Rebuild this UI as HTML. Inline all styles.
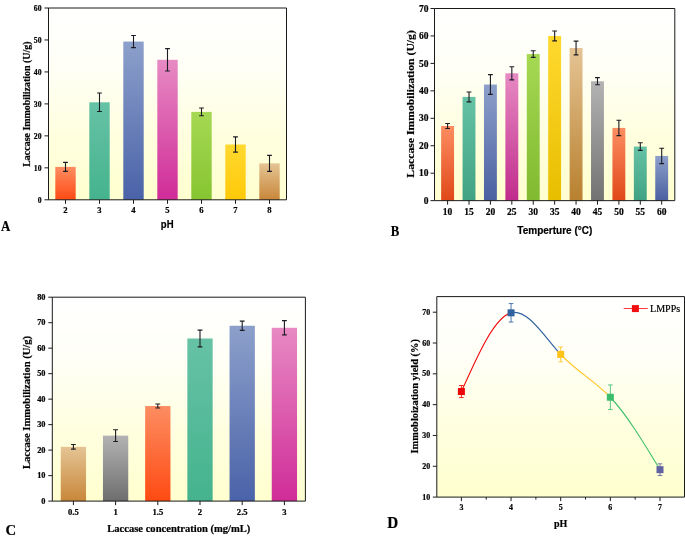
<!DOCTYPE html>
<html><head><meta charset="utf-8"><title>Figure</title>
<style>html,body{margin:0;padding:0;background:#fff;}body{width:685px;height:537px;overflow:hidden;}svg{display:block;will-change:transform;}text{fill:#000;stroke:#000;stroke-width:0.2px;}</style>
</head><body>
<svg width="685" height="537" viewBox="0 0 685 537"><defs><linearGradient id="g_orange" x1="0" y1="0" x2="0" y2="1"><stop offset="0" stop-color="#FC8D62"/><stop offset="1" stop-color="#FF4A12"/></linearGradient><linearGradient id="g_teal" x1="0" y1="0" x2="0" y2="1"><stop offset="0" stop-color="#66C2A5"/><stop offset="1" stop-color="#45B38E"/></linearGradient><linearGradient id="g_blue" x1="0" y1="0" x2="0" y2="1"><stop offset="0" stop-color="#8DA0CB"/><stop offset="1" stop-color="#4A62A8"/></linearGradient><linearGradient id="g_pink" x1="0" y1="0" x2="0" y2="1"><stop offset="0" stop-color="#E78AC3"/><stop offset="1" stop-color="#D02C98"/></linearGradient><linearGradient id="g_green" x1="0" y1="0" x2="0" y2="1"><stop offset="0" stop-color="#A6D854"/><stop offset="1" stop-color="#86C531"/></linearGradient><linearGradient id="g_yellow" x1="0" y1="0" x2="0" y2="1"><stop offset="0" stop-color="#FFD92F"/><stop offset="1" stop-color="#FFC908"/></linearGradient><linearGradient id="g_tan" x1="0" y1="0" x2="0" y2="1"><stop offset="0" stop-color="#E5C494"/><stop offset="1" stop-color="#C8873A"/></linearGradient><linearGradient id="g_gray" x1="0" y1="0" x2="0" y2="1"><stop offset="0" stop-color="#B3B3B3"/><stop offset="1" stop-color="#6E6E6E"/></linearGradient><linearGradient id="gb_orange" x1="0" y1="0" x2="0" y2="1"><stop offset="0" stop-color="#FC8D62"/><stop offset="1" stop-color="#E04818"/></linearGradient><linearGradient id="gb_teal" x1="0" y1="0" x2="0" y2="1"><stop offset="0" stop-color="#66C2A5"/><stop offset="1" stop-color="#40A283"/></linearGradient><linearGradient id="gb_blue" x1="0" y1="0" x2="0" y2="1"><stop offset="0" stop-color="#8DA0CB"/><stop offset="1" stop-color="#4A60A0"/></linearGradient><linearGradient id="gb_pink" x1="0" y1="0" x2="0" y2="1"><stop offset="0" stop-color="#E78AC3"/><stop offset="1" stop-color="#C02C8C"/></linearGradient><linearGradient id="gb_green" x1="0" y1="0" x2="0" y2="1"><stop offset="0" stop-color="#A6D854"/><stop offset="1" stop-color="#80BA30"/></linearGradient><linearGradient id="gb_yellow" x1="0" y1="0" x2="0" y2="1"><stop offset="0" stop-color="#FFD92F"/><stop offset="1" stop-color="#E8BE00"/></linearGradient><linearGradient id="gb_tan" x1="0" y1="0" x2="0" y2="1"><stop offset="0" stop-color="#E5C494"/><stop offset="1" stop-color="#B8802E"/></linearGradient><linearGradient id="gb_gray" x1="0" y1="0" x2="0" y2="1"><stop offset="0" stop-color="#B3B3B3"/><stop offset="1" stop-color="#727272"/></linearGradient><linearGradient id="bg" x1="0" y1="0" x2="0" y2="1"><stop offset="0" stop-color="#FFFFFF"/><stop offset="0.3" stop-color="#FFFFF7"/><stop offset="0.65" stop-color="#FFFFE0"/><stop offset="1" stop-color="#FFFFCF"/></linearGradient></defs><rect x="0" y="0" width="685" height="537" fill="#ffffff"/>
<rect x="48.5" y="8.0" width="238.0" height="191.8" fill="url(#bg)"/>
<rect x="55.30" y="166.87" width="20.40" height="32.93" fill="url(#g_orange)"/>
<rect x="89.30" y="102.30" width="20.40" height="97.50" fill="url(#g_teal)"/>
<rect x="123.30" y="41.56" width="20.40" height="158.24" fill="url(#g_blue)"/>
<rect x="157.30" y="59.79" width="20.40" height="140.01" fill="url(#g_pink)"/>
<rect x="191.30" y="111.89" width="20.40" height="87.91" fill="url(#g_green)"/>
<rect x="225.30" y="144.50" width="20.40" height="55.30" fill="url(#g_yellow)"/>
<rect x="259.30" y="163.36" width="20.40" height="36.44" fill="url(#g_tan)"/>
<path d="M65.50,162.40 V171.35 M63.10,162.40 H67.90 M63.10,171.35 H67.90" stroke="#1c1c24" stroke-width="1.1" fill="none"/>
<path d="M99.50,93.03 V111.57 M97.10,93.03 H101.90 M97.10,111.57 H101.90" stroke="#1c1c24" stroke-width="1.1" fill="none"/>
<path d="M133.50,35.49 V47.64 M131.10,35.49 H135.90 M131.10,47.64 H135.90" stroke="#1c1c24" stroke-width="1.1" fill="none"/>
<path d="M167.50,48.60 V70.97 M165.10,48.60 H169.90 M165.10,70.97 H169.90" stroke="#1c1c24" stroke-width="1.1" fill="none"/>
<path d="M201.50,108.06 V115.73 M199.10,108.06 H203.90 M199.10,115.73 H203.90" stroke="#1c1c24" stroke-width="1.1" fill="none"/>
<path d="M235.50,136.83 V152.17 M233.10,136.83 H237.90 M233.10,152.17 H237.90" stroke="#1c1c24" stroke-width="1.1" fill="none"/>
<path d="M269.50,155.37 V171.35 M267.10,155.37 H271.90 M267.10,171.35 H271.90" stroke="#1c1c24" stroke-width="1.1" fill="none"/>
<path d="M48.5,8.0 H286.5 V199.8 H48.5 Z" fill="none" stroke="#1a1a1a" stroke-width="1"/>
<path d="M44.5,199.80 H48.5" stroke="#1a1a1a" stroke-width="1"/>
<text transform="translate(41.50,202.61) scale(1.02,1)" font-family='"Liberation Serif", serif' font-size="7.6" font-weight="bold" text-anchor="end" >0</text>
<path d="M44.5,167.83 H48.5" stroke="#1a1a1a" stroke-width="1"/>
<text transform="translate(41.50,170.65) scale(1.02,1)" font-family='"Liberation Serif", serif' font-size="7.6" font-weight="bold" text-anchor="end" >10</text>
<path d="M44.5,135.87 H48.5" stroke="#1a1a1a" stroke-width="1"/>
<text transform="translate(41.50,138.68) scale(1.02,1)" font-family='"Liberation Serif", serif' font-size="7.6" font-weight="bold" text-anchor="end" >20</text>
<path d="M44.5,103.90 H48.5" stroke="#1a1a1a" stroke-width="1"/>
<text transform="translate(41.50,106.71) scale(1.02,1)" font-family='"Liberation Serif", serif' font-size="7.6" font-weight="bold" text-anchor="end" >30</text>
<path d="M44.5,71.93 H48.5" stroke="#1a1a1a" stroke-width="1"/>
<text transform="translate(41.50,74.75) scale(1.02,1)" font-family='"Liberation Serif", serif' font-size="7.6" font-weight="bold" text-anchor="end" >40</text>
<path d="M44.5,39.97 H48.5" stroke="#1a1a1a" stroke-width="1"/>
<text transform="translate(41.50,42.78) scale(1.02,1)" font-family='"Liberation Serif", serif' font-size="7.6" font-weight="bold" text-anchor="end" >50</text>
<path d="M44.5,8.00 H48.5" stroke="#1a1a1a" stroke-width="1"/>
<text transform="translate(41.50,10.81) scale(1.02,1)" font-family='"Liberation Serif", serif' font-size="7.6" font-weight="bold" text-anchor="end" >60</text>
<path d="M65.50,199.8 V203.8" stroke="#1a1a1a" stroke-width="1"/>
<text transform="translate(65.50,212.80) scale(1.08,1)" font-family='"Liberation Serif", serif' font-size="8" font-weight="bold" text-anchor="middle" >2</text>
<path d="M99.50,199.8 V203.8" stroke="#1a1a1a" stroke-width="1"/>
<text transform="translate(99.50,212.80) scale(1.08,1)" font-family='"Liberation Serif", serif' font-size="8" font-weight="bold" text-anchor="middle" >3</text>
<path d="M133.50,199.8 V203.8" stroke="#1a1a1a" stroke-width="1"/>
<text transform="translate(133.50,212.80) scale(1.08,1)" font-family='"Liberation Serif", serif' font-size="8" font-weight="bold" text-anchor="middle" >4</text>
<path d="M167.50,199.8 V203.8" stroke="#1a1a1a" stroke-width="1"/>
<text transform="translate(167.50,212.80) scale(1.08,1)" font-family='"Liberation Serif", serif' font-size="8" font-weight="bold" text-anchor="middle" >5</text>
<path d="M201.50,199.8 V203.8" stroke="#1a1a1a" stroke-width="1"/>
<text transform="translate(201.50,212.80) scale(1.08,1)" font-family='"Liberation Serif", serif' font-size="8" font-weight="bold" text-anchor="middle" >6</text>
<path d="M235.50,199.8 V203.8" stroke="#1a1a1a" stroke-width="1"/>
<text transform="translate(235.50,212.80) scale(1.08,1)" font-family='"Liberation Serif", serif' font-size="8" font-weight="bold" text-anchor="middle" >7</text>
<path d="M269.50,199.8 V203.8" stroke="#1a1a1a" stroke-width="1"/>
<text transform="translate(269.50,212.80) scale(1.08,1)" font-family='"Liberation Serif", serif' font-size="8" font-weight="bold" text-anchor="middle" >8</text>
<text transform="translate(29.9,104.1) rotate(-90)" font-family='"Liberation Serif", serif' font-size="9.95" font-weight="bold" text-anchor="middle">Laccase Immobilization (U/g)</text>
<text transform="translate(167.20,228.20) scale(0.91,1)" font-family='"Liberation Sans", sans-serif' font-size="10.5" font-weight="bold" text-anchor="middle" >pH</text>
<text transform="translate(1.00,231.00) scale(0.88,1)" font-family='"Liberation Serif", serif' font-size="14.6" font-weight="bold" text-anchor="start" >A</text>
<rect x="434.5" y="8.5" width="240.29999999999995" height="192.15" fill="url(#bg)"/>
<rect x="441.15" y="125.99" width="12.90" height="74.66" fill="url(#gb_orange)"/>
<rect x="462.56" y="96.89" width="12.90" height="103.76" fill="url(#gb_teal)"/>
<rect x="483.97" y="84.54" width="12.90" height="116.11" fill="url(#gb_blue)"/>
<rect x="505.38" y="73.28" width="12.90" height="127.37" fill="url(#gb_pink)"/>
<rect x="526.79" y="54.07" width="12.90" height="146.58" fill="url(#gb_green)"/>
<rect x="548.20" y="35.95" width="12.90" height="164.70" fill="url(#gb_yellow)"/>
<rect x="569.61" y="48.03" width="12.90" height="152.62" fill="url(#gb_tan)"/>
<rect x="591.02" y="81.24" width="12.90" height="119.41" fill="url(#gb_gray)"/>
<rect x="612.43" y="127.91" width="12.90" height="72.74" fill="url(#gb_orange)"/>
<rect x="633.84" y="146.57" width="12.90" height="54.08" fill="url(#gb_teal)"/>
<rect x="655.25" y="155.91" width="12.90" height="44.74" fill="url(#gb_blue)"/>
<path d="M447.60,123.52 V128.46 M445.20,123.52 H450.00 M445.20,128.46 H450.00" stroke="#1c1c24" stroke-width="1.1" fill="none"/>
<path d="M469.01,91.95 V101.83 M466.61,91.95 H471.41 M466.61,101.83 H471.41" stroke="#1c1c24" stroke-width="1.1" fill="none"/>
<path d="M490.42,74.65 V94.42 M488.02,74.65 H492.82 M488.02,94.42 H492.82" stroke="#1c1c24" stroke-width="1.1" fill="none"/>
<path d="M511.83,66.69 V79.87 M509.43,66.69 H514.23 M509.43,79.87 H514.23" stroke="#1c1c24" stroke-width="1.1" fill="none"/>
<path d="M533.24,50.77 V57.36 M530.84,50.77 H535.64 M530.84,57.36 H535.64" stroke="#1c1c24" stroke-width="1.1" fill="none"/>
<path d="M554.65,31.01 V40.89 M552.25,31.01 H557.05 M552.25,40.89 H557.05" stroke="#1c1c24" stroke-width="1.1" fill="none"/>
<path d="M576.06,41.17 V54.89 M573.66,41.17 H578.46 M573.66,54.89 H578.46" stroke="#1c1c24" stroke-width="1.1" fill="none"/>
<path d="M597.47,77.67 V84.81 M595.07,77.67 H599.87 M595.07,84.81 H599.87" stroke="#1c1c24" stroke-width="1.1" fill="none"/>
<path d="M618.88,120.22 V135.59 M616.48,120.22 H621.28 M616.48,135.59 H621.28" stroke="#1c1c24" stroke-width="1.1" fill="none"/>
<path d="M640.29,142.73 V150.42 M637.89,142.73 H642.69 M637.89,150.42 H642.69" stroke="#1c1c24" stroke-width="1.1" fill="none"/>
<path d="M661.70,148.22 V163.59 M659.30,148.22 H664.10 M659.30,163.59 H664.10" stroke="#1c1c24" stroke-width="1.1" fill="none"/>
<path d="M434.5,8.5 H674.8 V200.65 H434.5 Z" fill="none" stroke="#1a1a1a" stroke-width="1"/>
<path d="M430.5,200.65 H434.5" stroke="#1a1a1a" stroke-width="1"/>
<text x="428.50" y="203.78" font-family='"Liberation Serif", serif' font-size="9.5" font-weight="bold" text-anchor="end" >0</text>
<path d="M430.5,173.20 H434.5" stroke="#1a1a1a" stroke-width="1"/>
<text x="428.50" y="176.33" font-family='"Liberation Serif", serif' font-size="9.5" font-weight="bold" text-anchor="end" >10</text>
<path d="M430.5,145.75 H434.5" stroke="#1a1a1a" stroke-width="1"/>
<text x="428.50" y="148.88" font-family='"Liberation Serif", serif' font-size="9.5" font-weight="bold" text-anchor="end" >20</text>
<path d="M430.5,118.30 H434.5" stroke="#1a1a1a" stroke-width="1"/>
<text x="428.50" y="121.44" font-family='"Liberation Serif", serif' font-size="9.5" font-weight="bold" text-anchor="end" >30</text>
<path d="M430.5,90.85 H434.5" stroke="#1a1a1a" stroke-width="1"/>
<text x="428.50" y="93.98" font-family='"Liberation Serif", serif' font-size="9.5" font-weight="bold" text-anchor="end" >40</text>
<path d="M430.5,63.40 H434.5" stroke="#1a1a1a" stroke-width="1"/>
<text x="428.50" y="66.54" font-family='"Liberation Serif", serif' font-size="9.5" font-weight="bold" text-anchor="end" >50</text>
<path d="M430.5,35.95 H434.5" stroke="#1a1a1a" stroke-width="1"/>
<text x="428.50" y="39.08" font-family='"Liberation Serif", serif' font-size="9.5" font-weight="bold" text-anchor="end" >60</text>
<path d="M430.5,8.50 H434.5" stroke="#1a1a1a" stroke-width="1"/>
<text x="428.50" y="11.63" font-family='"Liberation Serif", serif' font-size="9.5" font-weight="bold" text-anchor="end" >70</text>
<path d="M447.60,200.65 V204.65" stroke="#1a1a1a" stroke-width="1"/>
<text x="447.60" y="215.15" font-family='"Liberation Serif", serif' font-size="9.5" font-weight="bold" text-anchor="middle" >10</text>
<path d="M469.01,200.65 V204.65" stroke="#1a1a1a" stroke-width="1"/>
<text x="469.01" y="215.15" font-family='"Liberation Serif", serif' font-size="9.5" font-weight="bold" text-anchor="middle" >15</text>
<path d="M490.42,200.65 V204.65" stroke="#1a1a1a" stroke-width="1"/>
<text x="490.42" y="215.15" font-family='"Liberation Serif", serif' font-size="9.5" font-weight="bold" text-anchor="middle" >20</text>
<path d="M511.83,200.65 V204.65" stroke="#1a1a1a" stroke-width="1"/>
<text x="511.83" y="215.15" font-family='"Liberation Serif", serif' font-size="9.5" font-weight="bold" text-anchor="middle" >25</text>
<path d="M533.24,200.65 V204.65" stroke="#1a1a1a" stroke-width="1"/>
<text x="533.24" y="215.15" font-family='"Liberation Serif", serif' font-size="9.5" font-weight="bold" text-anchor="middle" >30</text>
<path d="M554.65,200.65 V204.65" stroke="#1a1a1a" stroke-width="1"/>
<text x="554.65" y="215.15" font-family='"Liberation Serif", serif' font-size="9.5" font-weight="bold" text-anchor="middle" >35</text>
<path d="M576.06,200.65 V204.65" stroke="#1a1a1a" stroke-width="1"/>
<text x="576.06" y="215.15" font-family='"Liberation Serif", serif' font-size="9.5" font-weight="bold" text-anchor="middle" >40</text>
<path d="M597.47,200.65 V204.65" stroke="#1a1a1a" stroke-width="1"/>
<text x="597.47" y="215.15" font-family='"Liberation Serif", serif' font-size="9.5" font-weight="bold" text-anchor="middle" >45</text>
<path d="M618.88,200.65 V204.65" stroke="#1a1a1a" stroke-width="1"/>
<text x="618.88" y="215.15" font-family='"Liberation Serif", serif' font-size="9.5" font-weight="bold" text-anchor="middle" >50</text>
<path d="M640.29,200.65 V204.65" stroke="#1a1a1a" stroke-width="1"/>
<text x="640.29" y="215.15" font-family='"Liberation Serif", serif' font-size="9.5" font-weight="bold" text-anchor="middle" >55</text>
<path d="M661.70,200.65 V204.65" stroke="#1a1a1a" stroke-width="1"/>
<text x="661.70" y="215.15" font-family='"Liberation Serif", serif' font-size="9.5" font-weight="bold" text-anchor="middle" >60</text>
<text transform="translate(413.7,103.9) rotate(-90) scale(1,0.9)" font-family='"Liberation Serif", serif' font-size="11.72" font-weight="bold" text-anchor="middle">Laccase Immobilization (U/g)</text>
<text x="554.80" y="233.80" font-family='"Liberation Sans", sans-serif' font-size="10.0" font-weight="bold" text-anchor="middle" >Temperture (°C)</text>
<text transform="translate(390.70,236.00) scale(0.9,1)" font-family='"Liberation Serif", serif' font-size="14.2" font-weight="bold" text-anchor="start" >B</text>
<rect x="52.3" y="297.2" width="253.09999999999997" height="203.90000000000003" fill="url(#bg)"/>
<rect x="60.75" y="446.81" width="25.30" height="54.29" fill="url(#g_tan)"/>
<rect x="102.95" y="435.60" width="25.30" height="65.50" fill="url(#g_gray)"/>
<rect x="145.15" y="406.03" width="25.30" height="95.07" fill="url(#g_orange)"/>
<rect x="187.35" y="338.49" width="25.30" height="162.61" fill="url(#g_teal)"/>
<rect x="229.55" y="325.75" width="25.30" height="175.35" fill="url(#g_blue)"/>
<rect x="271.75" y="327.78" width="25.30" height="173.32" fill="url(#g_pink)"/>
<path d="M73.40,444.52 V449.11 M71.00,444.52 H75.80 M71.00,449.11 H75.80" stroke="#1c1c24" stroke-width="1.1" fill="none"/>
<path d="M115.60,429.74 V441.46 M113.20,429.74 H118.00 M113.20,441.46 H118.00" stroke="#1c1c24" stroke-width="1.1" fill="none"/>
<path d="M157.80,403.99 V408.07 M155.40,403.99 H160.20 M155.40,408.07 H160.20" stroke="#1c1c24" stroke-width="1.1" fill="none"/>
<path d="M200.00,330.08 V346.90 M197.60,330.08 H202.40 M197.60,346.90 H202.40" stroke="#1c1c24" stroke-width="1.1" fill="none"/>
<path d="M242.20,321.16 V330.33 M239.80,321.16 H244.60 M239.80,330.33 H244.60" stroke="#1c1c24" stroke-width="1.1" fill="none"/>
<path d="M284.40,320.65 V334.92 M282.00,320.65 H286.80 M282.00,334.92 H286.80" stroke="#1c1c24" stroke-width="1.1" fill="none"/>
<path d="M52.3,297.2 H305.4 V501.1 H52.3 Z" fill="none" stroke="#1a1a1a" stroke-width="1"/>
<path d="M48.3,501.10 H52.3" stroke="#1a1a1a" stroke-width="1"/>
<text transform="translate(45.50,503.90) scale(1.04,1)" font-family='"Liberation Serif", serif' font-size="8.0" font-weight="bold" text-anchor="end" >0</text>
<path d="M48.3,475.61 H52.3" stroke="#1a1a1a" stroke-width="1"/>
<text transform="translate(45.50,478.41) scale(1.04,1)" font-family='"Liberation Serif", serif' font-size="8.0" font-weight="bold" text-anchor="end" >10</text>
<path d="M48.3,450.12 H52.3" stroke="#1a1a1a" stroke-width="1"/>
<text transform="translate(45.50,452.93) scale(1.04,1)" font-family='"Liberation Serif", serif' font-size="8.0" font-weight="bold" text-anchor="end" >20</text>
<path d="M48.3,424.64 H52.3" stroke="#1a1a1a" stroke-width="1"/>
<text transform="translate(45.50,427.44) scale(1.04,1)" font-family='"Liberation Serif", serif' font-size="8.0" font-weight="bold" text-anchor="end" >30</text>
<path d="M48.3,399.15 H52.3" stroke="#1a1a1a" stroke-width="1"/>
<text transform="translate(45.50,401.95) scale(1.04,1)" font-family='"Liberation Serif", serif' font-size="8.0" font-weight="bold" text-anchor="end" >40</text>
<path d="M48.3,373.66 H52.3" stroke="#1a1a1a" stroke-width="1"/>
<text transform="translate(45.50,376.46) scale(1.04,1)" font-family='"Liberation Serif", serif' font-size="8.0" font-weight="bold" text-anchor="end" >50</text>
<path d="M48.3,348.17 H52.3" stroke="#1a1a1a" stroke-width="1"/>
<text transform="translate(45.50,350.97) scale(1.04,1)" font-family='"Liberation Serif", serif' font-size="8.0" font-weight="bold" text-anchor="end" >60</text>
<path d="M48.3,322.69 H52.3" stroke="#1a1a1a" stroke-width="1"/>
<text transform="translate(45.50,325.49) scale(1.04,1)" font-family='"Liberation Serif", serif' font-size="8.0" font-weight="bold" text-anchor="end" >70</text>
<path d="M48.3,297.20 H52.3" stroke="#1a1a1a" stroke-width="1"/>
<text transform="translate(45.50,300.00) scale(1.04,1)" font-family='"Liberation Serif", serif' font-size="8.0" font-weight="bold" text-anchor="end" >80</text>
<path d="M73.40,501.1 V505.1" stroke="#1a1a1a" stroke-width="1"/>
<text transform="translate(73.40,514.60) scale(1.08,1)" font-family='"Liberation Serif", serif' font-size="8" font-weight="bold" text-anchor="middle" >0.5</text>
<path d="M115.60,501.1 V505.1" stroke="#1a1a1a" stroke-width="1"/>
<text transform="translate(115.60,514.60) scale(1.08,1)" font-family='"Liberation Serif", serif' font-size="8" font-weight="bold" text-anchor="middle" >1</text>
<path d="M157.80,501.1 V505.1" stroke="#1a1a1a" stroke-width="1"/>
<text transform="translate(157.80,514.60) scale(1.08,1)" font-family='"Liberation Serif", serif' font-size="8" font-weight="bold" text-anchor="middle" >1.5</text>
<path d="M200.00,501.1 V505.1" stroke="#1a1a1a" stroke-width="1"/>
<text transform="translate(200.00,514.60) scale(1.08,1)" font-family='"Liberation Serif", serif' font-size="8" font-weight="bold" text-anchor="middle" >2</text>
<path d="M242.20,501.1 V505.1" stroke="#1a1a1a" stroke-width="1"/>
<text transform="translate(242.20,514.60) scale(1.08,1)" font-family='"Liberation Serif", serif' font-size="8" font-weight="bold" text-anchor="middle" >2.5</text>
<path d="M284.40,501.1 V505.1" stroke="#1a1a1a" stroke-width="1"/>
<text transform="translate(284.40,514.60) scale(1.08,1)" font-family='"Liberation Serif", serif' font-size="8" font-weight="bold" text-anchor="middle" >3</text>
<text transform="translate(29.9,402.5) rotate(-90)" font-family='"Liberation Serif", serif' font-size="10.57" font-weight="bold" text-anchor="middle">Laccase Immobilization (U/g)</text>
<text transform="translate(178.80,531.60) scale(1.09,1)" font-family='"Liberation Serif", serif' font-size="9.7" font-weight="bold" text-anchor="middle" >Laccase concentration (mg/mL)</text>
<text transform="translate(5.60,535.40) scale(1.05,1)" font-family='"Liberation Serif", serif' font-size="14" font-weight="bold" text-anchor="start" >C</text>
<rect x="436.8" y="296.6" width="247.7" height="200.5" fill="url(#bg)"/>
<path d="M461.40,391.55 C477.95,354.42 494.50,317.28 511.05,312.82" stroke="#EE0505" stroke-width="1.1" fill="none"/>
<path d="M511.05,312.82 C527.60,308.35 544.15,336.56 560.70,354.42" stroke="#2E62A0" stroke-width="1.1" fill="none"/>
<path d="M560.70,354.42 C577.25,372.27 593.80,379.77 610.35,397.25" stroke="#FFC21A" stroke-width="1.1" fill="none"/>
<path d="M610.35,397.25 C626.90,414.74 643.45,442.21 660.00,469.67" stroke="#3DBE6C" stroke-width="1.1" fill="none"/>
<path d="M461.40,385.54 V397.56 M459.10,385.54 H463.70 M459.10,397.56 H463.70" stroke="#EE0505" stroke-width="0.85" fill="none"/>
<rect x="457.90" y="388.05" width="7" height="7" fill="#EE0505"/>
<path d="M511.05,303.57 V322.06 M508.75,303.57 H513.35 M508.75,322.06 H513.35" stroke="#2E62A0" stroke-width="0.85" fill="none"/>
<rect x="507.55" y="309.32" width="7" height="7" fill="#2E62A0"/>
<path d="M560.70,347.02 V361.81 M558.40,347.02 H563.00 M558.40,361.81 H563.00" stroke="#FFC21A" stroke-width="0.85" fill="none"/>
<rect x="557.20" y="350.92" width="7" height="7" fill="#FFC21A"/>
<path d="M610.35,384.93 V409.58 M608.05,384.93 H612.65 M608.05,409.58 H612.65" stroke="#3DBE6C" stroke-width="0.85" fill="none"/>
<rect x="606.85" y="393.75" width="7" height="7" fill="#3DBE6C"/>
<path d="M660.00,463.82 V475.53 M657.70,463.82 H662.30 M657.70,475.53 H662.30" stroke="#6262A2" stroke-width="0.85" fill="none"/>
<rect x="656.50" y="466.17" width="7" height="7" fill="#6262A2"/>
<path d="M436.8,296.6 H684.5 V497.1 H436.8 Z" fill="none" stroke="#1a1a1a" stroke-width="1"/>
<path d="M432.8,497.10 H436.8" stroke="#1a1a1a" stroke-width="1"/>
<text transform="translate(430.20,499.70) scale(1.05,1)" font-family='"Liberation Serif", serif' font-size="7.6" font-weight="bold" text-anchor="end" >10</text>
<path d="M432.8,466.28 H436.8" stroke="#1a1a1a" stroke-width="1"/>
<text transform="translate(430.20,468.88) scale(1.05,1)" font-family='"Liberation Serif", serif' font-size="7.6" font-weight="bold" text-anchor="end" >20</text>
<path d="M432.8,435.47 H436.8" stroke="#1a1a1a" stroke-width="1"/>
<text transform="translate(430.20,438.07) scale(1.05,1)" font-family='"Liberation Serif", serif' font-size="7.6" font-weight="bold" text-anchor="end" >30</text>
<path d="M432.8,404.65 H436.8" stroke="#1a1a1a" stroke-width="1"/>
<text transform="translate(430.20,407.25) scale(1.05,1)" font-family='"Liberation Serif", serif' font-size="7.6" font-weight="bold" text-anchor="end" >40</text>
<path d="M432.8,373.83 H436.8" stroke="#1a1a1a" stroke-width="1"/>
<text transform="translate(430.20,376.43) scale(1.05,1)" font-family='"Liberation Serif", serif' font-size="7.6" font-weight="bold" text-anchor="end" >50</text>
<path d="M432.8,343.02 H436.8" stroke="#1a1a1a" stroke-width="1"/>
<text transform="translate(430.20,345.62) scale(1.05,1)" font-family='"Liberation Serif", serif' font-size="7.6" font-weight="bold" text-anchor="end" >60</text>
<path d="M432.8,312.20 H436.8" stroke="#1a1a1a" stroke-width="1"/>
<text transform="translate(430.20,314.80) scale(1.05,1)" font-family='"Liberation Serif", serif' font-size="7.6" font-weight="bold" text-anchor="end" >70</text>
<path d="M461.40,497.1 V501.1" stroke="#1a1a1a" stroke-width="1"/>
<text transform="translate(461.40,510.10) scale(1.05,1)" font-family='"Liberation Serif", serif' font-size="7.6" font-weight="bold" text-anchor="middle" >3</text>
<path d="M511.05,497.1 V501.1" stroke="#1a1a1a" stroke-width="1"/>
<text transform="translate(511.05,510.10) scale(1.05,1)" font-family='"Liberation Serif", serif' font-size="7.6" font-weight="bold" text-anchor="middle" >4</text>
<path d="M560.70,497.1 V501.1" stroke="#1a1a1a" stroke-width="1"/>
<text transform="translate(560.70,510.10) scale(1.05,1)" font-family='"Liberation Serif", serif' font-size="7.6" font-weight="bold" text-anchor="middle" >5</text>
<path d="M610.35,497.1 V501.1" stroke="#1a1a1a" stroke-width="1"/>
<text transform="translate(610.35,510.10) scale(1.05,1)" font-family='"Liberation Serif", serif' font-size="7.6" font-weight="bold" text-anchor="middle" >6</text>
<path d="M660.00,497.1 V501.1" stroke="#1a1a1a" stroke-width="1"/>
<text transform="translate(660.00,510.10) scale(1.05,1)" font-family='"Liberation Serif", serif' font-size="7.6" font-weight="bold" text-anchor="middle" >7</text>
<path d="M486.22,497.1 V499.6" stroke="#1a1a1a" stroke-width="1"/>
<path d="M535.88,497.1 V499.6" stroke="#1a1a1a" stroke-width="1"/>
<path d="M585.52,497.1 V499.6" stroke="#1a1a1a" stroke-width="1"/>
<path d="M635.17,497.1 V499.6" stroke="#1a1a1a" stroke-width="1"/>
<path d="M623.7,308.5 H647.7" stroke="#FF2020" stroke-width="0.9"/>
<rect x="631.9" y="305.1" width="7" height="7" fill="#F00E0E"/>
<text transform="translate(650.00,312.30) scale(1.07,1)" font-family='"Liberation Serif", serif' font-size="9.4" font-weight="normal" text-anchor="start" >LMPPs</text>
<text transform="translate(417.6,396.3) rotate(-90)" font-family='"Liberation Serif", serif' font-size="10.4" font-weight="bold" text-anchor="middle">Immobloization yield (%)</text>
<text x="560.70" y="526.80" font-family='"Liberation Serif", serif' font-size="10" font-weight="bold" text-anchor="middle" >pH</text>
<text transform="translate(387.20,527.60) scale(0.96,1)" font-family='"Liberation Serif", serif' font-size="15.8" font-weight="bold" text-anchor="start" >D</text></svg>
</body></html>
